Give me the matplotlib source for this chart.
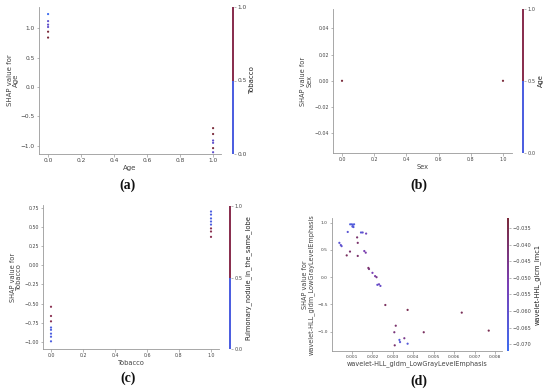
import matplotlib
matplotlib.use("Agg")
import matplotlib.pyplot as plt
import numpy as np
from matplotlib.colors import LinearSegmentedColormap, ListedColormap
from matplotlib.cm import ScalarMappable
from matplotlib.colors import Normalize

# ---------------- data ----------------
# (a) Age dependence, coloured by Tobacco
a_x = [0, 0, 0, 0, 0, 0, 1, 1, 1, 1, 1, 1]
a_y = [1.24, 1.12, 1.06, 1.02, 0.94, 0.84, -0.70, -0.80, -0.91, -0.95, -1.04, -1.11]
a_c = [0.0, 0.3, 0.3, 0.3, 1.0, 1.0, 1.0, 1.0, 0.3, 0.3, 1.0, 0.3]

# (b) Sex dependence, coloured by Age
b_x = [0, 1]
b_y = [0.0, 0.0]
b_c = [1.0, 1.0]

# (c) Tobacco dependence, coloured by Pulmonary_nodule_in_the_same_lobe
c_x = [0, 0, 0, 0, 0, 0, 0, 0, 1, 1, 1, 1, 1, 1, 1, 1]
c_y = [-0.54, -0.66, -0.73, -0.81, -0.84, -0.89, -0.93, -0.99,
       0.70, 0.66, 0.61, 0.57, 0.53, 0.48, 0.44, 0.37]
c_c = [1, 1, 1, 0, 0, 0, 0, 0, 0, 0, 0, 0, 0, 1, 1, 1]

# (d) wavelet-HLL_gldm_LowGrayLevelEmphasis, coloured by wavelet-HHL_glcm_Imc1
d_x = [0.00091, 0.00099, 0.00104, 0.00110, 0.00102, 0.00107,
       0.00079, 0.00144, 0.00152, 0.00169, 0.00125, 0.00128,
       0.00038, 0.00045, 0.00049, 0.00090, 0.00160, 0.00167,
       0.00074, 0.00128, 0.00180, 0.00183, 0.00200, 0.00213,
       0.00220, 0.00224, 0.00232, 0.00239, 0.00263, 0.00372,
       0.00637, 0.00314, 0.00307, 0.00451, 0.00769, 0.00356,
       0.00332, 0.00335, 0.00372, 0.00309]
d_y = [0.97, 0.97, 0.96, 0.97, 0.93, 0.92,
       0.83, 0.82, 0.82, 0.80, 0.73, 0.63,
       0.63, 0.59, 0.57, 0.47, 0.48, 0.45,
       0.40, 0.39, 0.17, 0.15, 0.08, 0.02,
       0.00, -0.14, -0.13, -0.16, -0.51, -0.60,
       -0.65, -0.89, -1.01, -1.01, -0.98, -1.12,
       -1.15, -1.19, -1.22, -1.25]
d_c = [-0.066, -0.064, -0.066, -0.065, -0.063, -0.064,
       -0.062, -0.063, -0.060, -0.055, -0.040, -0.040,
       -0.062, -0.060, -0.061, -0.040, -0.052, -0.050,
       -0.038, -0.040, -0.040, -0.042, -0.052, -0.050,
       -0.045, -0.060, -0.055, -0.058, -0.038, -0.036,
       -0.037, -0.040, -0.042, -0.038, -0.036, -0.045,
       -0.065, -0.062, -0.064, -0.040]

# ---------------- style ----------------
W, H = 550, 391
fig = plt.figure(figsize=(W / 100, H / 100), dpi=100)

cmap = LinearSegmentedColormap.from_list(
    "rb", ["#3d6cf0", "#7a3fb5", "#7a2a3a"])
cmap_bin = ListedColormap(["#4d5fe0", "#8a3050"])

GRAY = "#444444"


def ax_px(l, r, t, b):
    return fig.add_axes([l / W, 1 - b / H, (r - l) / W, (b - t) / H])


def style(ax, ts):
    for s in ("top", "right"):
        ax.spines[s].set_visible(False)
    for s in ("left", "bottom"):
        ax.spines[s].set_color("#999999")
        ax.spines[s].set_linewidth(0.6)
    ax.tick_params(labelsize=ts, colors="#999999", labelcolor=GRAY,
                   length=1.8, width=0.5, pad=1.2)


def cbar(l, t, b, norm, cm, ticks, label, ts, ls, ticklabels=None, lpad=1.5):
    cax = fig.add_axes([l / W, 1 - b / H, 2.2 / W, (b - t) / H])
    cb = fig.colorbar(ScalarMappable(norm=norm, cmap=cm), cax=cax, ticks=ticks)
    cb.outline.set_visible(False)
    if ticklabels is not None:
        cb.set_ticklabels(ticklabels)
    cax.tick_params(labelsize=ts, labelcolor=GRAY, colors="#999999",
                    length=1.5, width=0.5, pad=1)
    cb.set_label(label, fontsize=ls, color="#222222", labelpad=lpad)
    return cb


def panel(ax, x, y, c, cm, norm, xlabel, ylabel, ts, ls):
    style(ax, ts)
    ax.scatter(x, y, c=c, cmap=cm, norm=norm, s=2.5, linewidths=0, zorder=3)
    ax.set_xlabel(xlabel, fontsize=ls, color=GRAY, labelpad=1)
    ax.set_ylabel(ylabel, fontsize=ls, color=GRAY, labelpad=1.5,
                  linespacing=1.0)


# (a)
ax = ax_px(39, 221, 7, 154)
panel(ax, a_x, a_y, a_c, cmap, Normalize(0, 1), "Age", "SHAP value for\nAge",
      4.2, 5.0)
ax.set_xlim(-0.055, 1.048)
ax.set_ylim(-1.14, 1.36)
ax.set_xticks([0, 0.2, 0.4, 0.6, 0.8, 1.0])
ax.set_yticks([-1.0, -0.5, 0.0, 0.5, 1.0])
cbar(232, 7, 154, Normalize(0, 1), cmap_bin, [0, 0.5, 1.0], "Tobacco",
     4.2, 5.0)

# (b)
ax = ax_px(333, 512, 9, 153)
panel(ax, b_x, b_y, b_c, cmap, Normalize(0, 1), "Sex", "SHAP value for\nSex",
      3.4, 4.8)
ax.set_xlim(-0.056, 1.056)
ax.set_ylim(-0.055, 0.0547)
ax.set_xticks([0, 0.2, 0.4, 0.6, 0.8, 1.0])
ax.set_yticks([-0.04, -0.02, 0.0, 0.02, 0.04])
cbar(522, 9, 153, Normalize(0, 1), cmap_bin, [0, 0.5, 1.0], "Age", 3.6, 4.8)

# (c)
ax = ax_px(43, 219, 205, 349)
panel(ax, c_x, c_y, c_c, cmap_bin, Normalize(0, 1), "Tobacco",
      "SHAP value for\nTobacco", 3.4, 4.8)
ax.set_xlim(-0.05, 1.05)
ax.set_ylim(-1.09, 0.785)
ax.set_xticks([0, 0.2, 0.4, 0.6, 0.8, 1.0])
ax.set_yticks([-1.0, -0.75, -0.5, -0.25, 0.0, 0.25, 0.5, 0.75])
cbar(229, 206, 349, Normalize(0, 1), cmap_bin, [0, 0.5, 1.0],
     "Pulmonary_nodule_in_the_same_lobe", 3.6, 4.8)

# (d)
ax = ax_px(332, 502, 218, 351)
dn = Normalize(-0.072, -0.032)
panel(ax, d_x, d_y, d_c, cmap, dn, "wavelet-HLL_gldm_LowGrayLevelEmphasis",
      "SHAP value for\nwavelet-HLL_gldm_LowGrayLevelEmphasis", 3.2, 4.7)
ax.set_xlim(0.00002, 0.00834)
ax.set_ylim(-1.354, 1.086)
ax.set_xticks([0.001, 0.002, 0.003, 0.004, 0.005, 0.006, 0.007, 0.008])
ax.set_xticklabels(["0.001", "0.002", "0.003", "0.004", "0.005", "0.006",
                    "0.007", "0.008"])
ax.set_yticks([-1.0, -0.5, 0.0, 0.5, 1.0])
dt = [-0.070, -0.065, -0.060, -0.055, -0.050, -0.045, -0.040, -0.035]
cbar(507, 218, 351, dn, cmap, dt, "wavelet-HHL_glcm_Imc1", 3.6, 4.8,
     ticklabels=["\u2212%.3f" % abs(v) for v in dt])

# panel letters
for lab, x, y in [("(a)", 128, 185), ("(b)", 419, 185),
                  ("(c)", 128, 378), ("(d)", 419, 381)]:
    fig.text(x / W, 1 - y / H, lab, fontsize=10, fontweight="bold",
             family="Liberation Serif", ha="center", va="center",
             color="#111111")

fig.savefig("out.png", dpi=100, facecolor="white")
